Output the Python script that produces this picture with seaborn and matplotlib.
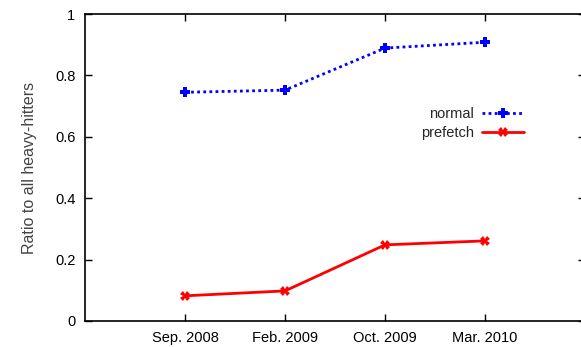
import matplotlib
matplotlib.use("Agg")
import matplotlib.pyplot as plt
import seaborn as sns
import pandas as pd
from matplotlib.lines import Line2D

# Snapshot dates and measured ratios
periods = ["Sep. 2008", "Feb. 2009", "Oct. 2009", "Mar. 2010"]
normal = [0.745, 0.752, 0.889, 0.908]
prefetch = [0.082, 0.098, 0.248, 0.261]

sns.set_style("ticks")
plt.rcParams["font.family"] = ["Liberation Sans", "DejaVu Sans"]

df = pd.DataFrame({
    "pos": list(range(1, len(periods) + 1)) * 2,
    "ratio": normal + prefetch,
    "kind": ["normal"] * len(normal) + ["prefetch"] * len(prefetch),
})

fig = plt.figure(figsize=(5.81, 3.47), dpi=100)
ax = fig.add_axes([85 / 581, 1 - 321 / 347, 500 / 581, 307 / 347])

sns.lineplot(
    data=df, x="pos", y="ratio", hue="kind", style="kind",
    palette={"normal": "#0000ff", "prefetch": "#ff0000"},
    dashes={"normal": (1, 1.2), "prefetch": ""},
    markers={"normal": "P", "prefetch": "X"},
    markersize=7, linewidth=2, markeredgewidth=0,
    ax=ax, legend=False,
)

ax.set_xlim(0, 5)
ax.set_ylim(0, 1)
ax.set_xticks(range(1, len(periods) + 1))
ax.set_xticklabels(periods)
ax.set_yticks([0, 0.2, 0.4, 0.6, 0.8, 1])
ax.set_yticklabels(["0", "0.2", "0.4", "0.6", "0.8", "1"])
ax.set_xlabel("")
ax.set_ylabel("Ratio to all heavy-hitters", fontsize=11.5, color="#444444", labelpad=13)
ax.tick_params(direction="in", length=5, width=1, top=True, right=True,
               labelsize=10.5, colors="black", pad=7)
for s in ax.spines.values():
    s.set_visible(True)
    s.set_linewidth(1.2)
    s.set_color("black")

handles = [
    Line2D([], [], color="#0000ff", linestyle=(0, (1, 1.2)), linewidth=2,
           marker="P", markersize=7, markeredgewidth=0),
    Line2D([], [], color="#ff0000", linewidth=2,
           marker="X", markersize=7, markeredgewidth=0),
]
ax.legend(handles, ["normal", "prefetch"], frameon=False, markerfirst=False,
          loc="center right", bbox_to_anchor=(0.893, 0.643), fontsize=10.5,
          handlelength=2.9, labelspacing=0.35, borderpad=0, handletextpad=0.55)

fig.savefig("out.png", dpi=100)
